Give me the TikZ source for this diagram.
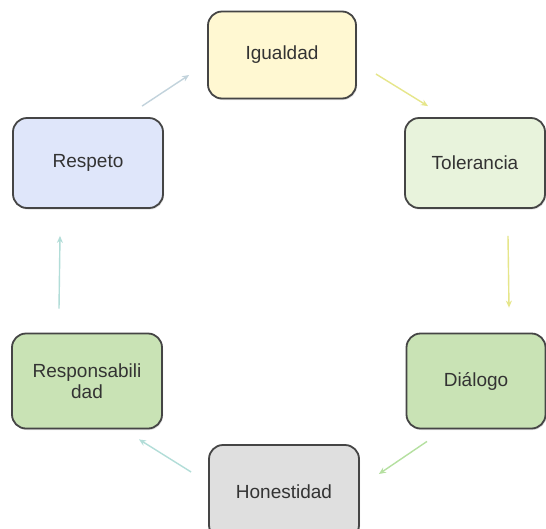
\documentclass[tikz,border=0pt]{standalone}
\usepackage{fontspec}
\setmainfont{Liberation Sans}
\usetikzlibrary{arrows.meta,shadows}
\definecolor{bordc}{HTML}{454545}
\definecolor{txtc}{HTML}{333333}
\definecolor{fyel}{HTML}{FFF8D2}
\definecolor{fltg}{HTML}{E8F3DC}
\definecolor{fgrn}{HTML}{C9E3B5}
\definecolor{fgry}{HTML}{DFDFDF}
\definecolor{fblu}{HTML}{DFE6FA}
\definecolor{ayel}{HTML}{E6E68A}
\definecolor{agrn}{HTML}{B5E0A0}
\definecolor{atea}{HTML}{B2DDD8}
\definecolor{ablu}{HTML}{C2D3DC}
\tikzset{
  valbox/.style={draw=bordc, line width=1.8pt, rounded corners=14pt, align=center,
    text=txtc, font=\fontsize{19}{21}\selectfont, inner sep=0pt,
    drop shadow={shadow xshift=1pt, shadow yshift=-1.5pt, opacity=0.25}},
  arr/.style={line width=1.4pt, -{Stealth[length=7pt,width=6pt]}}
}
\begin{document}
\begin{tikzpicture}[x=1pt,y=-1pt]
\useasboundingbox (0,0) rectangle (546,528);
\fill[white] (0,0) rectangle (546,528);
\node[valbox, fill=fyel, minimum width=148pt, minimum height=87pt] (igu) at (282,55) {Igualdad};
\node[valbox, fill=fltg, minimum width=140pt, minimum height=90pt] (tol) at (475,163) {Tolerancia};
\node[valbox, fill=fgrn, minimum width=139pt, minimum height=95pt] (dia) at (476,381) {Diálogo};
\node[valbox, fill=fgry, minimum width=150pt, minimum height=94pt] (hon) at (284,492) {Honestidad};
\node[valbox, fill=fgrn, minimum width=150pt, minimum height=95pt] (res) at (87,381) {Responsabili\\dad};
\node[valbox, fill=fblu, minimum width=150pt, minimum height=90pt] (rep) at (88,163) {Respeto};
\draw[arr, ayel] ([shift={(19,19)}]igu.east) -- ([shift={(-47,-11)}]tol.north);
\draw[arr, ayel] ([shift={(33,27)}]tol.south) -- ([shift={(33,-25)}]dia.north);
\draw[arr, agrn] ([shift={(-49,12)}]dia.south) -- ([shift={(19,-18)}]hon.east);
\draw[arr, atea] ([shift={(-17,-20)}]hon.west) -- ([shift={(52,10)}]res.south);
\draw[arr, atea] ([shift={(-28,-24)}]res.north) -- ([shift={(-28,27)}]rep.south);
\draw[arr, ablu] ([shift={(54,-11)}]rep.north) -- ([shift={(-18,20)}]igu.west);
\end{tikzpicture}
\end{document}
